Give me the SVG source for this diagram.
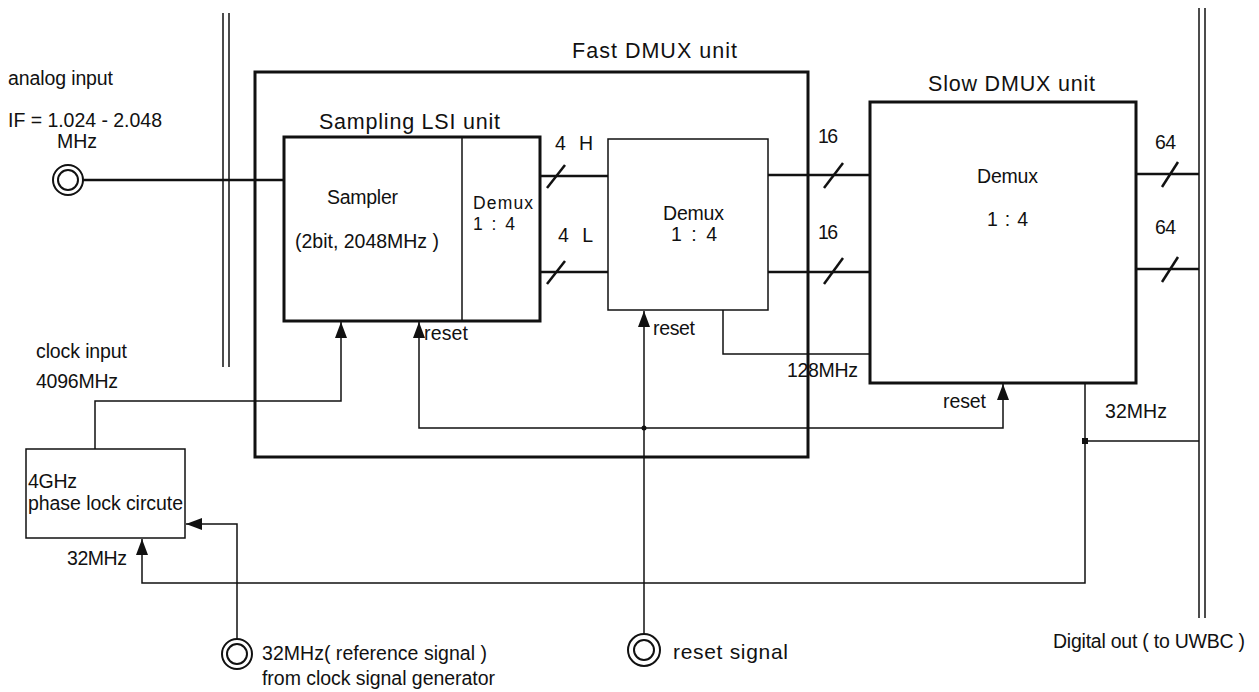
<svg xmlns="http://www.w3.org/2000/svg" width="1259" height="692" viewBox="0 0 1259 692">
<defs>
<style>
.t{font-family:"Liberation Sans",Arial,sans-serif;font-size:19.5px;fill:#111}
.tl{font-family:"Liberation Sans",Arial,sans-serif;font-size:21.5px;fill:#111}
.big{font-size:21px}
.sm{font-size:17.5px}
.thick{fill:none;stroke:#111;stroke-width:3}
.med{fill:none;stroke:#111;stroke-width:2.5}
.thin{fill:none;stroke:#111;stroke-width:1.5}
.port{fill:#fff;stroke:#111;stroke-width:2}
</style>
<marker id="arr" markerUnits="userSpaceOnUse" markerWidth="16" markerHeight="12" viewBox="0 0 16 12" refX="16" refY="6" orient="auto-start-reverse">
<path d="M0,0 L16,6 L0,12 Z" fill="#111"/>
</marker>
</defs>
<rect width="1259" height="692" fill="#fff"/>

<g id="boundary-left">
<line class="thin" x1="223" y1="13" x2="223" y2="367"/>
<line class="thin" x1="229" y1="13" x2="229" y2="367"/>
</g>
<g id="boundary-right">
<line class="thin" x1="1199" y1="8" x2="1199" y2="618"/>
<line class="thin" x1="1205" y1="8" x2="1205" y2="618"/>
<text class="t" x="1053" y="648" textLength="192">Digital out ( to UWBC )</text>
</g>

<g id="fast-dmux-unit">
<rect class="thick" x="255" y="72" width="553" height="385"/>
<text class="tl" x="572" y="58" textLength="165">Fast DMUX unit</text>
</g>

<g id="sampling-lsi">
<rect class="thick" x="284" y="137" width="256" height="184"/>
<line class="thin" x1="462" y1="137" x2="462" y2="321"/>
<text class="tl" x="319" y="129" textLength="181">Sampling LSI unit</text>
<text class="t" x="327" y="204" textLength="71">Sampler</text>
<text class="t" x="295" y="248" textLength="144">(2bit, 2048MHz )</text>
<text class="t sm" x="473" y="209" textLength="60">Demux</text>
<text class="t sm" x="473" y="230" textLength="42">1 :  4</text>
</g>

<g id="demux-fast">
<rect class="thin" x="608" y="139" width="160" height="171"/>
<text class="t" x="663" y="220" textLength="61">Demux</text>
<text class="t" x="671" y="241" textLength="46">1 :   4</text>
</g>

<g id="slow-dmux">
<rect class="thick" x="870" y="102" width="266" height="281"/>
<text class="tl" x="928" y="91" textLength="167">Slow DMUX unit</text>
<text class="t" x="977" y="183" textLength="61">Demux</text>
<text class="t" x="987" y="226" textLength="41">1 :  4</text>
</g>

<g id="pll">
<rect class="thin" x="26" y="449" width="159" height="89"/>
<text class="t" x="28" y="488" textLength="49">4GHz</text>
<text class="t" x="28" y="510" textLength="155">phase lock circute</text>
</g>

<g id="analog-input">
<circle class="port" cx="68" cy="180" r="15"/>
<circle class="port" cx="68" cy="180" r="10"/>
<text class="t" x="8" y="85" textLength="105">analog input</text>
<text class="t" x="8" y="127" textLength="154">IF = 1.024 - 2.048</text>
<text class="t" x="57" y="148" textLength="40">MHz</text>
</g>

<g id="ref-input">
<circle class="port" cx="237" cy="654" r="15"/>
<circle class="port" cx="237" cy="654" r="10"/>
<text class="t" x="262" y="660" textLength="225">32MHz( reference signal )</text>
<text class="t" x="262" y="685" textLength="233">from clock signal generator</text>
</g>

<g id="reset-input">
<circle class="port" cx="644" cy="650" r="16"/>
<circle class="port" cx="644" cy="650" r="10"/>
<text class="t big" x="673" y="659" textLength="115">reset signal</text>
</g>

<g id="connectors">
<line class="med" x1="83" y1="180" x2="284" y2="180"/>
<!-- H / L -->
<line class="med" x1="540" y1="176" x2="608" y2="176"/>
<line class="med" x1="540" y1="272" x2="608" y2="272"/>
<line class="med" x1="547" y1="188" x2="565" y2="165"/>
<line class="med" x1="547" y1="284" x2="565" y2="261"/>
<text class="t" x="555" y="150" textLength="38">4  H</text>
<text class="t" x="558" y="242" textLength="35">4  L</text>
<!-- 16 -->
<line class="med" x1="768" y1="175" x2="870" y2="175"/>
<line class="med" x1="768" y1="272" x2="870" y2="272"/>
<line class="med" x1="824" y1="188" x2="843" y2="163"/>
<line class="med" x1="824" y1="284" x2="843" y2="258"/>
<text class="t" x="818" y="143" textLength="20">16</text>
<text class="t" x="818" y="239" textLength="20">16</text>
<!-- 64 -->
<line class="med" x1="1136" y1="174" x2="1199" y2="174"/>
<line class="med" x1="1136" y1="269" x2="1199" y2="269"/>
<line class="med" x1="1162" y1="187" x2="1178" y2="162"/>
<line class="med" x1="1162" y1="282" x2="1178" y2="257"/>
<text class="t" x="1155" y="149" textLength="21">64</text>
<text class="t" x="1155" y="234" textLength="21">64</text>
<!-- 128MHz -->
<polyline class="thin" points="723,310 723,354 870,354"/>
<text class="t" x="787" y="377" textLength="71">128MHz</text>
<!-- reset -->
<line class="thin" x1="644" y1="634" x2="644" y2="311" marker-end="url(#arr)"/>
<polyline class="thin" points="1003,384 1003,428 419,428 419,322" marker-start="url(#arr)" marker-end="url(#arr)"/>
<circle cx="644" cy="428" r="2.5" fill="#111"/>
<text class="t" x="424" y="340" textLength="44">reset</text>
<text class="t" x="653" y="335" textLength="42">reset</text>
<text class="t" x="943" y="408" textLength="43">reset</text>
<!-- clock -->
<polyline class="thin" points="95,449 95,401 341,401 341,322" marker-end="url(#arr)"/>
<text class="t" x="36" y="358" textLength="91">clock input</text>
<text class="t" x="36" y="388" textLength="82">4096MHz</text>
<!-- 32MHz -->
<polyline class="thin" points="1085,383 1085,583 142,583 142,539" marker-end="url(#arr)"/>
<line class="thin" x1="1085" y1="441" x2="1199" y2="441"/>
<rect x="1082" y="438" width="6" height="6" fill="#111"/>
<text class="t" x="1105" y="418" textLength="62">32MHz</text>
<text class="t" x="67" y="565" textLength="60">32MHz</text>
<!-- reference -->
<polyline class="thin" points="237,639 237,524 186,524" marker-end="url(#arr)"/>
</g>
</svg>
